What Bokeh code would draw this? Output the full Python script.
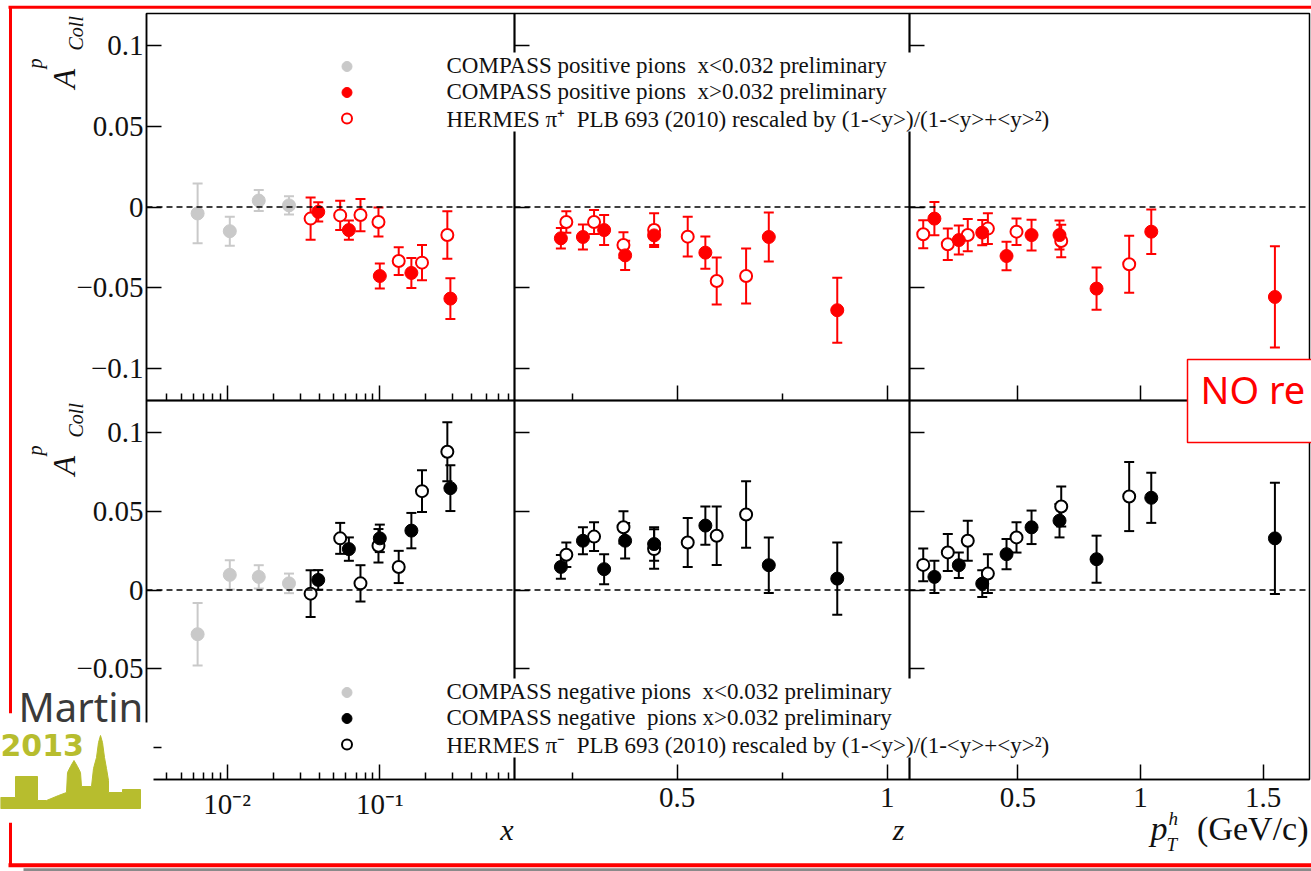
import math
from bokeh.plotting import figure
from bokeh.models import (Range1d, FixedTicker, Whisker, TeeHead, ColumnDataSource,
                          Span, Legend, LegendItem, Label)
from bokeh.embed import file_html
from bokeh.resources import INLINE

# ------------------------------------------------------------------ data
# Bjorken x panel
x_low_bins = [0.0064, 0.0104, 0.0161, 0.0254]
x_compass = [0.0395, 0.0627, 0.100, 0.161, 0.290]
x_hermes = [0.0352, 0.0550, 0.0747, 0.098, 0.133, 0.189, 0.277]

pos_low_x = [-0.0040, -0.0150, 0.0040, 0.0010]
pos_low_x_err = [0.0185, 0.0090, 0.0065, 0.0057]
pos_compass_x = [-0.0030, -0.0143, -0.0428, -0.0409, -0.0568]
pos_compass_x_err = [0.0060, 0.0060, 0.0078, 0.0093, 0.0126]
pos_hermes_x = [-0.0072, -0.0052, -0.0050, -0.0093, -0.0335, -0.0345, -0.0174]
pos_hermes_x_err = [0.0131, 0.0090, 0.0100, 0.0090, 0.0086, 0.0110, 0.0147]

neg_low_x = [-0.0280, 0.0096, 0.0083, 0.0042]
neg_low_x_err = [0.0198, 0.0093, 0.0074, 0.0062]
neg_compass_x = [0.0064, 0.0259, 0.0327, 0.0376, 0.0645]
neg_compass_x_err = [0.0062, 0.0074, 0.0087, 0.0112, 0.0145]
neg_hermes_x = [-0.0023, 0.0327, 0.0042, 0.0280, 0.0146, 0.0626, 0.0875]
neg_hermes_x_err = [0.0148, 0.0098, 0.0115, 0.0106, 0.0102, 0.0132, 0.0187]

# z panel
z_compass = [0.223, 0.2755, 0.326, 0.376, 0.445, 0.567, 0.718, 0.881]
z_hermes = [0.236, 0.302, 0.372, 0.445, 0.525, 0.594, 0.664]

pos_compass_z = [-0.0194, -0.0186, -0.0143, -0.0300, -0.0176, -0.0283, -0.0186, -0.0640]
pos_compass_z_err = [0.0064, 0.0077, 0.0093, 0.0091, 0.0060, 0.0100, 0.0152, 0.0202]
pos_hermes_z = [-0.0093, -0.0093, -0.0236, -0.0143, -0.0184, -0.0459, -0.0428]
pos_hermes_z_err = [0.0067, 0.0074, 0.0080, 0.0105, 0.0123, 0.0146, 0.0171]

neg_compass_z = [0.0146, 0.0312, 0.0132, 0.0312, 0.0291, 0.0408, 0.0157, 0.0072]
neg_compass_z_err = [0.0075, 0.0085, 0.0095, 0.0112, 0.0106, 0.0121, 0.0176, 0.0229]
neg_hermes_z = [0.0223, 0.0338, 0.0397, 0.0259, 0.0301, 0.0344, 0.0478]
neg_hermes_z_err = [0.0078, 0.0091, 0.0102, 0.0125, 0.0155, 0.0185, 0.0210]

# pT panel
pt_compass = [0.160, 0.2595, 0.355, 0.454, 0.556, 0.670, 0.821, 1.044, 1.548]
pt_hermes = [0.1145, 0.2146, 0.296, 0.378, 0.4947, 0.677, 0.954]

pos_compass_pt = [-0.0072, -0.0205, -0.0159, -0.0304, -0.0174, -0.0174, -0.0506, -0.0153, -0.0558]
pos_compass_pt_err = [0.0103, 0.0090, 0.0078, 0.0088, 0.0095, 0.0090, 0.0131, 0.0138, 0.0314]
pos_hermes_pt = [-0.0169, -0.0231, -0.0174, -0.0134, -0.0153, -0.0211, -0.0355]
pos_hermes_pt_err = [0.0087, 0.0098, 0.0100, 0.0095, 0.0082, 0.0101, 0.0177]

neg_compass_pt = [0.0083, 0.0157, 0.0040, 0.0227, 0.0397, 0.0439, 0.0195, 0.0584, 0.0327]
neg_compass_pt_err = [0.0102, 0.0081, 0.0085, 0.0096, 0.0106, 0.0106, 0.0149, 0.0159, 0.0352]
neg_hermes_pt = [0.0159, 0.0238, 0.0312, 0.0104, 0.0333, 0.0529, 0.0592]
neg_hermes_pt_err = [0.0104, 0.0117, 0.0127, 0.0123, 0.0096, 0.0127, 0.0219]

# axis ticks / labels
y_ticks = [-0.1, -0.05, 0.0, 0.05, 0.1]
y_tick_labels = ["\u22120.1", "\u22120.05", "0", "0.05", "0.1"]
x_major = [0.01, 0.1]
x_minor = [0.004, 0.005, 0.006, 0.007, 0.008, 0.009,
           0.02, 0.03, 0.04, 0.05, 0.06, 0.07, 0.08, 0.09,
           0.2, 0.3, 0.4, 0.5, 0.6, 0.7]
x_tick_labels = ["10\u207b\u00b2", "10\u207b\u00b9"]
z_major = [0.5, 1.0]
z_minor = [0.25, 0.75]
z_tick_labels = ["0.5", "1"]
pt_major = [0.5, 1.0, 1.5]
pt_tick_labels = ["0.5", "1", "1.5"]

legend_pos = ["COMPASS positive pions  x<0.032 preliminary",
              "COMPASS positive pions  x>0.032 preliminary",
              "HERMES \u03c0\u207a  PLB 693 (2010) rescaled by (1-<y>)/(1-<y>+<y>\u00b2)"]
legend_neg = ["COMPASS negative pions  x<0.032 preliminary",
              "COMPASS negative  pions x>0.032 preliminary",
              "HERMES \u03c0\u207b  PLB 693 (2010) rescaled by (1-<y>)/(1-<y>+<y>\u00b2)"]

# ------------------------------------------------------------------ styling
W, H = 1311, 871
SERIF = "Liberation Serif"
RED = "#ff0000"
BLACK = "#000000"
GRAY = "#c9c9c9"
OLIVE = "#b7bd2e"
ABS = {"position": "absolute", "left": "0px", "top": "0px"}
TICK_FONT = "29px"
LEGEND_FONT = "23px"

COLS = {"x": (146, 514), "z": (514, 909), "pt": (909, 1309)}
ROWS = {"top": (13, 400), "bottom": (400, 779)}
XAX = {
    "x": dict(kind="log", rng=(0.00296, 0.763), major=x_major, minor=x_minor, labels=x_tick_labels),
    "z": dict(kind="linear", rng=(0.1126, 1.053), major=z_major, minor=z_minor, labels=z_tick_labels),
    "pt": dict(kind="linear", rng=(0.0585, 1.689), major=pt_major, minor=[], labels=pt_tick_labels),
}


def style_axis(a, font_size, standoff):
    a.axis_line_color = BLACK
    a.axis_line_width = 1.5
    a.major_tick_in = 15
    a.major_tick_out = 0
    a.minor_tick_in = 7
    a.minor_tick_out = 0
    a.major_tick_line_width = 1.5
    a.minor_tick_line_width = 1.5
    a.major_tick_line_color = BLACK
    a.minor_tick_line_color = BLACK
    a.major_label_text_font = SERIF
    a.major_label_text_font_size = font_size
    a.major_label_text_color = "#111111"
    a.major_label_standoff = standoff


def make_panel(col, row):
    l, r = COLS[col]
    t, b = ROWS[row]
    ax = XAX[col]
    p = figure(width=W, height=H, output_backend="svg", toolbar_location=None,
               x_axis_type=ax["kind"], x_range=Range1d(*ax["rng"]),
               y_range=Range1d(-0.12, 0.12),
               min_border_left=l, min_border_right=W - r,
               min_border_top=t, min_border_bottom=H - b,
               border_fill_color=None, background_fill_color=None,
               outline_line_color=BLACK, outline_line_width=1.5,
               styles=dict(ABS))
    p.xgrid.visible = False
    p.ygrid.visible = False
    xa = p.xaxis[0]
    ya = p.yaxis[0]
    xa.ticker = FixedTicker(ticks=ax["major"], minor_ticks=ax["minor"])
    ya.ticker = FixedTicker(ticks=y_ticks, minor_ticks=[])
    if row == "bottom":
        xa.major_label_overrides = dict(zip(ax["major"], ax["labels"]))
        style_axis(xa, TICK_FONT, 8)
    else:
        xa.major_label_overrides = {v: "" for v in ax["major"]}
        style_axis(xa, "0px", 0)
    if col == "x":
        ya.major_label_overrides = dict(zip(y_ticks, y_tick_labels))
        style_axis(ya, TICK_FONT, 3)
    else:
        ya.major_label_overrides = {v: "" for v in y_ticks}
        style_axis(ya, "0px", 0)
    p.add_layout(Span(location=0, dimension="width", line_color=BLACK,
                      line_width=1.6, line_dash="6 4"))
    return p


def add_series(p, xs, ys, errs, color, filled):
    src = ColumnDataSource(dict(x=xs, y=ys,
                                lo=[v - e for v, e in zip(ys, errs)],
                                hi=[v + e for v, e in zip(ys, errs)]))
    p.add_layout(Whisker(source=src, base="x", lower="lo", upper="hi",
                         line_color=color, line_width=2, level="underlay",
                         lower_head=TeeHead(size=10, line_color=color, line_width=2),
                         upper_head=TeeHead(size=10, line_color=color, line_width=2)))
    if filled:
        return p.scatter("x", "y", source=src, marker="circle", size=13,
                         fill_color=color, line_color=color, line_width=1)
    return p.scatter("x", "y", source=src, marker="circle", size=12,
                     fill_color="white", line_color=color, line_width=2)


# ------------------------------------------------------------------ panels
tl = make_panel("x", "top")
add_series(tl, x_low_bins, pos_low_x, pos_low_x_err, GRAY, True)
add_series(tl, x_hermes, pos_hermes_x, pos_hermes_x_err, RED, False)
add_series(tl, x_compass, pos_compass_x, pos_compass_x_err, RED, True)

tm = make_panel("z", "top")
add_series(tm, z_hermes, pos_hermes_z, pos_hermes_z_err, RED, False)
add_series(tm, z_compass, pos_compass_z, pos_compass_z_err, RED, True)

tr = make_panel("pt", "top")
add_series(tr, pt_hermes, pos_hermes_pt, pos_hermes_pt_err, RED, False)
add_series(tr, pt_compass, pos_compass_pt, pos_compass_pt_err, RED, True)

bl = make_panel("x", "bottom")
add_series(bl, x_low_bins, neg_low_x, neg_low_x_err, GRAY, True)
add_series(bl, x_hermes, neg_hermes_x, neg_hermes_x_err, BLACK, False)
add_series(bl, x_compass, neg_compass_x, neg_compass_x_err, BLACK, True)

bm = make_panel("z", "bottom")
add_series(bm, z_hermes, neg_hermes_z, neg_hermes_z_err, BLACK, False)
add_series(bm, z_compass, neg_compass_z, neg_compass_z_err, BLACK, True)

br = make_panel("pt", "bottom")
add_series(br, pt_hermes, neg_hermes_pt, neg_hermes_pt_err, BLACK, False)
add_series(br, pt_compass, neg_compass_pt, neg_compass_pt_err, BLACK, True)

# ------------------------------------------------------------------ overlay (legends, titles, slide decorations)
ov = figure(width=W, height=H, output_backend="svg", toolbar_location=None,
            x_range=Range1d(0, W), y_range=Range1d(H, 0),
            min_border=0, x_axis_location=None, y_axis_location=None,
            border_fill_color=None, background_fill_color=None,
            outline_line_color=None, styles=dict(ABS))
ov.xgrid.visible = False
ov.ygrid.visible = False

# legend boxes (white, they hide the panel dividers like in the original)
ov.quad(left=[334, 334], right=[1142, 1142], top=[52, 678], bottom=[131, 757],
        fill_color="white", line_color=None)


def legend_row(label, color, filled, center_y):
    # legend-only glyph, placed far outside the visible range
    if filled:
        r = ov.scatter(x=[-5000], y=[-5000], marker="circle", size=13, fill_color=color,
                       line_color=color, line_width=1)
    else:
        r = ov.scatter(x=[-5000], y=[-5000], marker="circle", size=12, fill_color="white",
                       line_color=color, line_width=2)
    lg = Legend(items=[LegendItem(label=label, renderers=[r])],
                location=(333.5, H - center_y - 20), glyph_width=25, glyph_height=40,
                label_height=40, label_standoff=88, padding=0, margin=0,
                border_line_color=None, background_fill_alpha=0.0,
                label_text_font=SERIF, label_text_font_size=LEGEND_FONT,
                label_text_color="#111111")
    ov.add_layout(lg)


legend_style = [(GRAY, True), (RED, True), (RED, False)]
for lab_txt, (c, f), cy in zip(legend_pos, legend_style, (66, 92, 118)):
    legend_row(lab_txt, c, f, cy)
legend_style = [(GRAY, True), (BLACK, True), (BLACK, False)]
for lab_txt, (c, f), cy in zip(legend_neg, legend_style, (692, 718, 744)):
    legend_row(lab_txt, c, f, cy)


def lab(x, y, text, size, style="normal", align="left", angle=0.0, color="#111111", font=SERIF):
    ov.add_layout(Label(x=x, y=y, text=text, text_font=font, text_font_size=size,
                        text_font_style=style, text_align=align, text_baseline="alphabetic",
                        angle=angle, text_color=color))


# axis titles
for dy in (0, 387):
    lab(63, 88 + dy, "A", "32px", "italic", angle=math.pi / 2)
    lab(75, 50 + dy, "Coll", "20px", "italic", angle=math.pi / 2)
    lab(34, 68 + dy, "p", "20px", "italic", angle=math.pi / 2)

lab(513, 829, "x", "30px", "italic", align="right")
lab(904, 829, "z", "30px", "italic", align="right")
lab(1150, 828, "p", "34px", "italic")
lab(1168, 818, "h", "19px", "italic")
lab(1166, 844, "T", "19px", "italic")
lab(1308, 828, "(GeV/c)", "34px", align="right")

# slide frame
ov.segment(x0=[8, 10, 10, 8, 23], y0=[6.7, 6, 822, 864.7, 869.5],
           x1=[1311, 10, 10, 1311, 1311], y1=[6.7, 713, 866, 864.7, 869.5],
           line_color=[RED, RED, RED, RED, "#8a8a8a"], line_width=[3, 3, 3, 4, 3.5])

# "NO re" note box
ov.quad(left=[1187], right=[1325], top=[359], bottom=[442],
        fill_color="white", line_color=RED, line_width=1.5)
lab(1200, 388, "NO re", "38px", color=RED, font="Noto Sans")

# Martin 2013 logo
ov.quad(left=[0, 0], right=[140, 153], top=[713, 722], bottom=[722, 822],
        fill_color="white", line_color=None)
lab(18, 706, "Martin", "40px", color="#3a3a3a", font="Noto Sans")
lab(0, 744, "2013", "30px", style="bold", color=OLIVE, font="DejaVu Sans")
sky_x = [0, 15, 15, 37, 37, 46, 58, 66, 67, 70, 73.5, 77, 80, 81, 91, 93, 96, 98, 100, 102,
         104, 106, 108, 108, 122, 122, 140, 140, 0]
sky_y = [797, 797, 776, 776, 800, 800, 795, 792, 772, 766, 760, 766, 772, 786, 786, 768, 757,
         742, 735, 742, 757, 768, 780, 792, 792, 789, 789, 808, 808]
ov.patch(sky_x, sky_y, fill_color=OLIVE, line_color=OLIVE)

# separate roots, stacked on top of each other (later = above)
roots = [tr, tm, br, bm, tl, bl, ov]
open("out.html", "w").write(file_html(roots, INLINE))
